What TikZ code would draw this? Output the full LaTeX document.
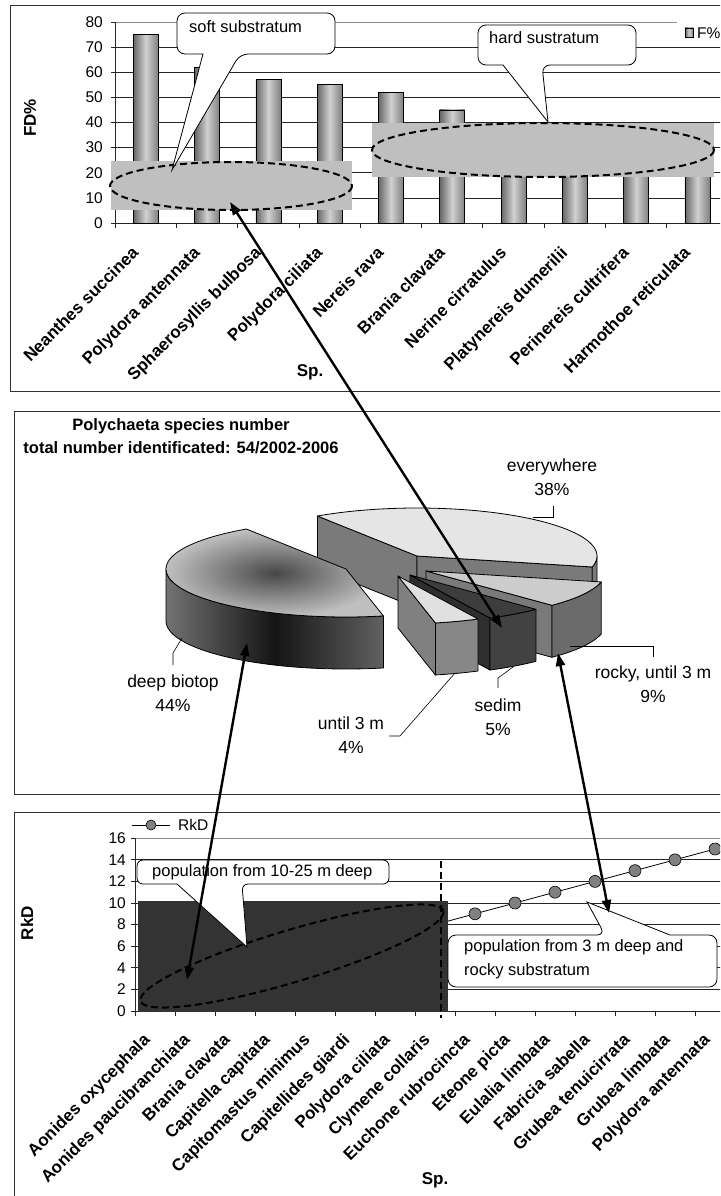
\documentclass[tikz,border=0pt]{standalone}
\usepackage{fontspec}
\setmainfont{Liberation Sans}
\usepackage{tikz}
\usetikzlibrary{arrows, arrows.meta}
\newcommand{\catfont}{\fontsize{17}{19}\selectfont\bfseries}
\newcommand{\tickfont}{\fontsize{15.5}{17}\selectfont}
\newcommand{\notefont}{\fontsize{16.5}{24}\selectfont}
\newcommand{\piefont}{\fontsize{17.5}{24.5}\selectfont}
\newcommand{\ttlfont}{\fontsize{16.5}{23}\selectfont\bfseries}

\begin{document}
\begin{tikzpicture}[x=1pt, y=-1pt]
\tikzstyle{cat}=[anchor=north east, rotate=45, inner sep=0pt, font=\catfont]
\tikzstyle{ticklab}=[anchor=east, inner sep=0pt, font=\tickfont]
\tikzstyle{gline}=[draw=black!85, line width=0.7pt]
\tikzstyle{bar}=[draw=black, line width=0.6pt, left color=black!60, right color=black!50, middle color=black!18]
\tikzstyle{zone}=[fill=black!25]
\tikzstyle{ring}=[draw=black, line width=2pt, dash pattern=on 7pt off 4pt]
\tikzstyle{bubble}=[draw=black, fill=white, line width=0.8pt]
\tikzstyle{note}=[anchor=west, inner sep=0pt, font=\notefont, align=left]
\tikzstyle{panel}=[draw=black!80, line width=1pt]
\tikzstyle{facet}=[draw=black, line width=0.8pt, line join=round]
\tikzstyle{pielab}=[align=center, inner sep=0pt, font=\piefont]
\tikzstyle{leader}=[draw=black, line width=0.6pt]
\tikzstyle{link}=[draw=black, line width=2.4pt, {Triangle[length=13pt,width=9pt]}-{Triangle[length=13pt,width=9pt]}]
\tikzstyle{dot}=[circle, draw=black, fill=black!50, minimum size=12pt, inner sep=0pt, line width=0.6pt]

\useasboundingbox (0,0) rectangle (720,1196);
\clip (0,0) rectangle (720,1196);

\draw[panel] (10,6) rectangle (726,391);
\draw[panel] (14,411) rectangle (726,794);
\draw[panel] (14,812) rectangle (726,1200);

\foreach \v in {1,...,7} \draw[gline] (115,{223-25.125*\v}) -- (728,{223-25.125*\v});
\draw[gline, draw=black!45] (115,22) -- (677,22);
\draw[gline] (115,22) -- (115,223) -- (728,223);
\foreach \v in {0,...,8} \draw[gline] (111,{223-25.125*\v}) -- (115,{223-25.125*\v});
\foreach \k in {0,...,10} \draw[gline] ({115+61.3*\k},223) -- ({115+61.3*\k},228);

\draw[bar] (133.2,223) rectangle (158.2,34.6);
\draw[bar] (194.5,223) rectangle (219.5,67.2);
\draw[bar] (255.8,223) rectangle (280.8,79.8);
\draw[bar] (317.1,223) rectangle (342.1,84.8);
\draw[bar] (378.4,223) rectangle (403.4,92.4);
\draw[bar] (439.7,223) rectangle (464.7,109.9);
\draw[bar] (501.0,223) rectangle (526.0,140.1);
\draw[bar] (562.3,223) rectangle (587.3,147.6);
\draw[bar] (623.6,223) rectangle (648.6,155.2);
\draw[bar] (684.9,223) rectangle (709.9,160.2);

\fill[zone] (111,161) rectangle (352,210);
\fill[zone] (372,123) rectangle (714,177);
\draw[ring] (231,186) ellipse [x radius=121, y radius=24];
\draw[ring] (543,150) ellipse [x radius=171, y radius=27];

\draw[bubble] (177,34) [rounded corners=8pt] -- (177,13) -- (335,13) -- (335,54) -- (240,54) [sharp corners] -- (172,170) -- (203,54) [rounded corners=8pt] -- (177,54) -- cycle;
\node[note] (soft) at (189,27) {soft substratum};
\draw[bubble] (478,45) [rounded corners=8pt] -- (478,25) -- (636,25) -- (636,65) -- (542,65) [sharp corners] -- (548,122) -- (503,65) [rounded corners=8pt] -- (478,65) -- cycle;
\node[note] (hard) at (489,38) {hard sustratum};

\fill[white] (677,14) rectangle (722,42);
\draw[bar] (685,28) rectangle (693,37);
\node[ticklab, anchor=west] (fleg) at (697,33) {F\%};

\foreach \v [count=\i from 0] in {0,10,...,80} \node[ticklab] (fy\i) at (103,{223-2.5125*\v}) {\v};
\node[font=\catfont, rotate=90] (fd) at (30,118) {FD\%};
\node[font=\catfont] (fsp) at (310,372) {Sp.};

\node[cat] (f1) at (130.7,245) {Neanthes succinea};
\node[cat] (f2) at (192.0,245) {Polydora antennata};
\node[cat] (f3) at (253.3,245) {Sphaerosyllis bulbosa};
\node[cat] (f4) at (314.6,245) {Polydora ciliata};
\node[cat] (f5) at (375.9,245) {Nereis rava};
\node[cat] (f6) at (437.2,245) {Brania clavata};
\node[cat] (f7) at (498.5,245) {Nerine cirratulus};
\node[cat] (f8) at (559.8,245) {Platynereis dumerilii};
\node[cat] (f9) at (621.1,245) {Perinereis cultrifera};
\node[cat] (f10) at (682.4,245) {Harmothoe reticulata};

\node[font=\ttlfont, align=center] (ttl) at (181,436) {Polychaeta species number\\total number identificated: 54/2002-2006};

\draw[facet, fill=black!52] (417,556) -- (317.4,516) -- (317.4,568) -- (417,608) -- cycle;
\draw[facet, fill=black!52] (417,556) -- (592.2,567) -- (592.2,619) -- (417,608) -- cycle;
\draw[facet, fill=black!52] plot[domain=346.8:360, samples=6] ({417+180*cos(\x)},{556-48*sin(\x)}) -- plot[domain=360:346.8, samples=6] ({417+180*cos(\x)},{608-48*sin(\x)}) -- cycle;
\draw[facet, fill=black!10] (417,556) -- plot[domain=346.8:483.6, samples=60] ({417+180*cos(\x)},{556-48*sin(\x)}) -- cycle;

\draw[facet, left color=black!55, right color=black!62, middle color=black!92] plot[domain=180:282, samples=40] ({346+180*cos(\x)},{569-48*sin(\x)}) -- plot[domain=282:180, samples=40] ({346+180*cos(\x)},{621-48*sin(\x)}) -- cycle;
\draw[facet, inner color=black!72, outer color=black!25] (346,569) -- plot[domain=123.6:282, samples=60] ({346+180*cos(\x)},{569-48*sin(\x)}) -- cycle;

\draw[facet, fill=black!52] (426,571) -- (551.9,605.3) -- (551.9,657.3) -- (426,623) -- cycle;
\draw[facet, fill=black!58] plot[domain=314.4:346.8, samples=15] ({426+180*cos(\x)},{571-48*sin(\x)}) -- plot[domain=346.8:314.4, samples=15] ({426+180*cos(\x)},{623-48*sin(\x)}) -- cycle;
\draw[facet, fill=black!20] (426,571) -- plot[domain=314.4:346.8, samples=15] ({426+180*cos(\x)},{571-48*sin(\x)}) -- cycle;

\draw[facet, fill=black!82] (410,575) -- (490,618) -- (490,670) -- (410,627) -- cycle;
\draw[facet, fill=black!74] plot[domain=296.4:314.4, samples=10] ({410+180*cos(\x)},{575-48*sin(\x)}) -- plot[domain=314.4:296.4, samples=10] ({410+180*cos(\x)},{627-48*sin(\x)}) -- cycle;
\draw[facet, fill=black!76] (410,575) -- plot[domain=296.4:314.4, samples=10] ({410+180*cos(\x)},{575-48*sin(\x)}) -- cycle;

\draw[facet, fill=black!50] (398,576) -- (435.4,623) -- (435.4,675) -- (398,628) -- cycle;
\draw[facet, fill=black!47] plot[domain=282:296.4, samples=10] ({398+180*cos(\x)},{576-48*sin(\x)}) -- plot[domain=296.4:282, samples=10] ({398+180*cos(\x)},{628-48*sin(\x)}) -- cycle;
\draw[facet, fill=black!12] (398,576) -- plot[domain=282:296.4, samples=10] ({398+180*cos(\x)},{576-48*sin(\x)}) -- cycle;

\node[pielab] (ev) at (552,477) {everywhere\\38\%};
\node[pielab] (rk) at (653,684) {rocky, until 3 m\\9\%};
\node[pielab] (sd) at (498,717) {sedim\\5\%};
\node[pielab] (ut) at (351,735) {until 3 m\\4\%};
\node[pielab] (dp) at (173,693) {deep biotop\\44\%};
\coordinate (ev1) at (553,506);
\coordinate (ev2) at (533,517);
\coordinate (rk1) at (570,646);
\coordinate (rk2) at (653,657);
\coordinate (sd1) at (498,688);
\coordinate (sd2) at (498,678);
\coordinate (sd3) at (513,667);
\coordinate (ut1) at (389,736);
\coordinate (ut2) at (400,736);
\coordinate (ut3) at (455,673);
\coordinate (dp1) at (173,665);
\coordinate (dp2) at (173,653);
\coordinate (dp3) at (182,638);
\draw[leader] (ev1) |- (ev2);
\draw[leader] (rk1) -| (rk2);
\draw[leader] (sd1) -- (sd2) -- (sd3);
\draw[leader] (ut1) -- (ut2) -- (ut3);
\draw[leader] (dp1) -- (dp2) -- (dp3);

\foreach \v in {2,4,...,14} \draw[gline] (135,{1011-10.8*\v}) -- (735,{1011-10.8*\v});
\draw[gline, draw=black!45] (135,838.2) -- (735,838.2);
\draw[gline] (135,838.2) -- (135,1011) -- (735,1011);
\foreach \v in {0,2,...,16} \draw[gline] (131,{1011-10.8*\v}) -- (135,{1011-10.8*\v});
\foreach \k in {0,...,15} \draw[gline] ({135+40*\k},1011) -- ({135+40*\k},1016);
\foreach \k in {1,...,15} \coordinate (p\k) at ({115+40*\k},{1011-10.8*\k});
\draw[line width=0.8pt] (p1) \foreach \k in {2,...,15} {-- (p\k)};
\foreach \k in {1,...,15} \node[dot] (m\k) at (p\k) {};
\fill[black!80] (138,901) rectangle (448,1012);
\draw[ring, rotate around={16.6:(292,956)}] (292,956) ellipse [x radius=158, y radius=26];
\draw[ring, line width=2.6pt] (441,861) -- (441,1018);

\coordinate (lg1) at (132,825);
\coordinate (lg2) at (170,825);
\draw[line width=0.8pt] (lg1) -- (lg2);
\node[dot, minimum size=10pt] (lgm) at (151,825) {};
\node[ticklab, anchor=west] (lgt) at (178,825) {RkD};

\draw[bubble] (137,872) [rounded corners=6pt] -- (137,860) -- (389,860) -- (389,884) -- (242,884) [sharp corners] -- (247,947) -- (177,884) [rounded corners=6pt] -- (137,884) -- cycle;
\node[note] (deep) at (152,872) {population from 10-25 m deep};
\draw[bubble] (448,960) [rounded corners=8pt] -- (448,935) -- (605,935) [sharp corners] -- (587,902) -- (670,935) [rounded corners=8pt] -- (717,935) -- (717,987) -- (448,987) -- cycle;
\node[note] (rocky) at (464,959) {population from 3 m deep and\\rocky substratum};

\foreach \v [count=\i from 0] in {0,2,...,16} \node[ticklab] (ry\i) at (126,{1011-10.8*\v}) {\v};
\node[font=\catfont, rotate=90] (rkd) at (27,923) {RkD};
\node[font=\catfont] (rsp) at (435,1180) {Sp.};

\node[cat] (r1) at (142,1032) {Aonides oxycephala};
\node[cat] (r2) at (182,1032) {Aonides paucibranchiata};
\node[cat] (r3) at (222,1032) {Brania clavata};
\node[cat] (r4) at (262,1032) {Capitella capitata};
\node[cat] (r5) at (302,1032) {Capitomastus minimus};
\node[cat] (r6) at (342,1032) {Capitellides giardi};
\node[cat] (r7) at (382,1032) {Polydora ciliata};
\node[cat] (r8) at (422,1032) {Clymene collaris};
\node[cat] (r9) at (462,1032) {Euchone rubrocincta};
\node[cat] (r10) at (502,1032) {Eteone picta};
\node[cat] (r11) at (542,1032) {Eulalia limbata};
\node[cat] (r12) at (582,1032) {Fabricia sabella};
\node[cat] (r13) at (622,1032) {Grubea tenuicirrata};
\node[cat] (r14) at (662,1032) {Grubea limbata};
\node[cat] (r15) at (702,1032) {Polydora antennata};

\coordinate (a1) at (230,202);
\coordinate (a2) at (502,628);
\coordinate (b1) at (247,643);
\coordinate (b2) at (187,980);
\coordinate (c1) at (558,653);
\coordinate (c2) at (609,913);
\draw[link] (a1) -- (a2);
\draw[link] (b1) -- (b2);
\draw[link] (c1) -- (c2);
\end{tikzpicture}
\end{document}
